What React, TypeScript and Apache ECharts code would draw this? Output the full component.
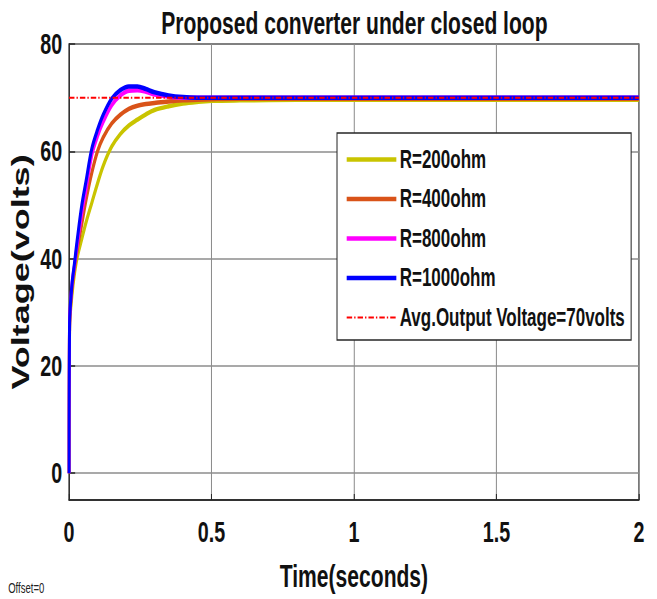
import React, { useEffect, useRef } from "react";
import * as echarts from "echarts";

// ---- data ----
const time = [0, 0.002, 0.01, 0.02, 0.03, 0.045, 0.06, 0.08, 0.1, 0.12, 0.15, 0.18, 0.21, 0.24, 0.27, 0.3, 0.35, 0.4, 0.45, 0.5, 0.6, 0.8, 1.0, 1.5, 2.0];
const voltR200 = [0, 27, 33, 37.5, 40.5, 43.7, 46.8, 50.4, 54, 57.3, 60.9, 63.2, 64.8, 65.9, 66.9, 67.7, 68.4, 68.9, 69.2, 69.4, 69.5, 69.6, 69.6, 69.6, 69.6];
const voltR400 = [0, 27.5, 34, 38.5, 42, 46.5, 51, 56, 60, 62.6, 65.2, 66.8, 67.9, 68.5, 68.8, 69.0, 69.3, 69.5, 69.6, 69.7, 69.8, 69.8, 69.8, 69.8, 69.8];
const voltR800 = [0, 28, 35, 39, 43, 48.5, 53, 59.3, 62.8, 65.5, 68.6, 70.4, 71.3, 71.4, 71.1, 70.6, 70.2, 70.0, 70, 70, 70, 70, 70, 70, 70];
const voltR1000 = [0, 28, 35, 39.5, 44, 50, 54.5, 60.5, 64, 66.8, 69.8, 71.4, 72.1, 72.1, 71.6, 71.0, 70.4, 70.1, 70.0, 70, 70, 70, 70, 70, 70];
const avgTime = [0, 2];
const avgVolt = [70, 70];

const seriesNames = ["R=200ohm", "R=400ohm", "R=800ohm", "R=1000ohm", "Avg.Output Voltage=70volts"];
const yTicks = [0, 20, 40, 60, 80];

const titleText = "Proposed converter under closed loop";
const xName = "Time(seconds)";
const yName = "Voltage(volts)";
const noteText = "Offset=0";

// the reference picture is horizontally condensed; reproduce with a CSS squeeze
const S = 0.68;
const W = 657 / S;
const H = 599;
const FONT = "'Liberation Sans', Arial, Helvetica, sans-serif";

const pairs = (xs: number[], ys: number[]) => xs.map((x, i) => [x, ys[i]]);

export default function App() {
  const ref = useRef<HTMLDivElement>(null);
  useEffect(() => {
    if (!ref.current) return;
    const chart = echarts.init(ref.current, undefined, { renderer: "svg" });
    const solid = (name: string, color: string, ys: number[]) => ({
      name,
      type: "line",
      data: pairs(time, ys),
      showSymbol: false,
      symbol: "none",
      smooth: 0.35,
      lineStyle: { width: 4.5, color },
      itemStyle: { color },
    });
    chart.setOption({
      animation: false,
      backgroundColor: "#ffffff",
      title: {
        text: titleText,
        left: 237,
        top: 8,
        padding: 0,
        textStyle: { fontSize: 31, fontWeight: "bold", color: "#111", fontFamily: FONT },
      },
      grid: {
        left: 101.5,
        right: 26.5,
        top: 44,
        bottom: 99,
        show: true,
        borderColor: "#262626",
        borderWidth: 1.5,
        backgroundColor: "#ffffff",
      },
      legend: {
        orient: "vertical",
        left: 495.6,
        top: 133,
        padding: [14, 9, 10, 12],
        itemGap: 14.5,
        itemWidth: 73,
        itemHeight: 14,
        borderColor: "#262626",
        borderWidth: 1.5,
        backgroundColor: "#ffffff",
        lineStyle: { width: 4.5 },
        itemStyle: { opacity: 0 },
        textStyle: { fontSize: 25, lineHeight: 25, fontWeight: "bold", color: "#111", fontFamily: FONT },
        data: [
          { name: seriesNames[0] },
          { name: seriesNames[1] },
          { name: seriesNames[2] },
          { name: seriesNames[3] },
          { name: seriesNames[4], lineStyle: { width: 2 } },
        ],
      },
      xAxis: {
        type: "value",
        min: 0,
        max: 2,
        interval: 0.5,
        name: xName,
        nameLocation: "middle",
        nameGap: 61,
        nameTextStyle: { fontSize: 31, fontWeight: "bold", color: "#111", fontFamily: FONT },
        axisLine: { show: true, onZero: false, lineStyle: { color: "#262626", width: 1.5 } },
        axisTick: { show: true, inside: true, length: 6, lineStyle: { color: "#262626", width: 1.5 } },
        axisLabel: { margin: 18, fontSize: 29, fontWeight: "bold", color: "#111", fontFamily: FONT },
        splitLine: { show: true, lineStyle: { color: "#8c8c8c", width: 1.5 } },
      },
      yAxis: {
        type: "value",
        min: -5,
        max: 80,
        name: yName,
        nameLocation: "middle",
        nameGap: 27,
        nameTextStyle: { fontSize: 36, fontWeight: "bold", color: "#111", fontFamily: FONT },
        axisLine: { show: true, onZero: false, lineStyle: { color: "#262626", width: 1.5 } },
        axisTick: { show: true, inside: true, length: 9, customValues: yTicks, lineStyle: { color: "#262626", width: 1.5 } },
        axisLabel: { margin: 10, customValues: yTicks, fontSize: 29, fontWeight: "bold", color: "#111", fontFamily: FONT },
        splitLine: { show: true, lineStyle: { color: "#8c8c8c", width: 1.5 } },
      },
      graphic: [
        {
          type: "text",
          left: 12,
          top: 581,
          style: { text: noteText, fontSize: 14, fill: "#222", fontFamily: FONT },
        },
      ],
      series: [
        solid(seriesNames[0], "#c9c400", voltR200),
        solid(seriesNames[1], "#d95319", voltR400),
        solid(seriesNames[2], "#ff00ff", voltR800),
        solid(seriesNames[3], "#0000ff", voltR1000),
        {
          name: seriesNames[4],
          type: "line",
          data: pairs(avgTime, avgVolt),
          showSymbol: false,
          symbol: "none",
          lineStyle: { width: 2, color: "#ff0000", type: [8, 3, 2, 3] },
          itemStyle: { color: "#ff0000" },
        },
      ],
    });
    return () => chart.dispose();
  }, []);
  return (
    <div
      style={{
        position: "fixed",
        left: 0,
        top: 0,
        width: 657,
        height: 599,
        overflow: "hidden",
        background: "#ffffff",
      }}
    >
      <div
        ref={ref}
        style={{ width: W, height: H, transform: `scaleX(${S})`, transformOrigin: "0 0" }}
      />
    </div>
  );
}
